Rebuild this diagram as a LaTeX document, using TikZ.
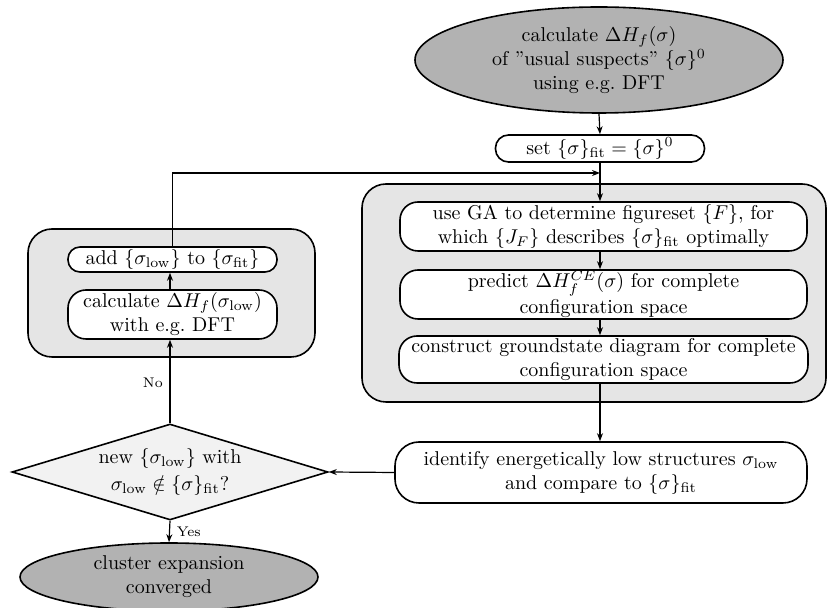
\documentclass[tikz,border=0pt]{standalone}
\usetikzlibrary{shapes.geometric,arrows.meta}
\begin{document}
\begin{tikzpicture}[x=0.5pt,y=-0.5pt,
  box/.style={draw, line width=0.8pt, fill=white, rounded corners=9pt, align=center, inner sep=0pt},
  cont/.style={draw, line width=0.8pt, fill=gray!20, rounded corners=12pt, inner sep=0pt},
  arr/.style={-{Stealth[length=4pt,width=3pt]}, line width=0.6pt},
  ell/.style={draw, line width=0.8pt, fill=gray!60, ellipse, align=center, inner sep=0pt},
  lbl/.style={font=\scriptsize}]
\useasboundingbox (0,0) rectangle (827,608);
% containers
\node[cont, minimum width=232pt, minimum height=109pt] (contR) at (594,293) {};
\node[cont, minimum width=143.5pt, minimum height=64pt] (contL) at (171.5,293) {};
% top ellipse
\node[ell, minimum width=184pt, minimum height=53pt] (top) at (599,60)
  {calculate $\Delta H_f(\sigma)$\\ of ''usual suspects'' $\{\sigma\}^0$\\ using e.g.\ DFT};
\node[box, rounded corners=6.5pt, minimum width=104.5pt, minimum height=13.5pt] (set) at (600,148.5)
  {set $\{\sigma\}_{\mathrm{fit}}=\{\sigma\}^0$};
% right inner boxes
\node[box, minimum width=203.5pt, minimum height=24.5pt] (g1) at (603.5,226.5)
  {use GA to determine figureset $\{F\}$, for\\ which $\{J_F\}$ describes $\{\sigma\}_{\mathrm{fit}}$ optimally};
\node[box, minimum width=203.5pt, minimum height=24.5pt] (g2) at (603.5,294.5)
  {predict $\Delta H_f^{CE}(\sigma)$ for complete\\[1pt] configuration space};
\node[box, minimum width=204.5pt, minimum height=23.5pt] (g3) at (603.5,359.5)
  {construct groundstate diagram for complete\\ configuration space};
% identify
\node[box, rounded corners=12pt, minimum width=206pt, minimum height=30.5pt] (ident) at (601,472.5)
  {identify energetically low structures $\sigma_{\mathrm{low}}$\\ and compare to $\{\sigma\}_{\mathrm{fit}}$};
% diamond
\node[diamond, draw, line width=0.8pt, fill=gray!10, aspect=3.25, minimum width=158pt, minimum height=48pt, inner sep=0pt, align=center] (dia) at (170,472)
  {new $\{\sigma_{\mathrm{low}}\}$ with\\[1.5pt] $\sigma_{\mathrm{low}}\notin\{\sigma\}_{\mathrm{fit}}$?};
% left inner boxes
\node[box, rounded corners=6pt, minimum width=104.5pt, minimum height=12.5pt] (add) at (172.5,259.5)
  {add $\{\sigma_{\mathrm{low}}\}$ to $\{\sigma_{\mathrm{fit}}\}$};
\node[box, minimum width=104.5pt, minimum height=24.5pt] (calc) at (172.5,314.5)
  {calculate $\Delta H_f(\sigma_{\mathrm{low}})$\\ with e.g.\ DFT};
% bottom ellipse
\node[ell, minimum width=149pt, minimum height=34pt] (conv) at (169,577)
  {cluster expansion\\ converged};
\coordinate (loopR) at (600,173);
% connectors
\draw[arr] (top.south) -- (set.north);
\draw[arr] (set.south) -- (set.south |- g1.north);
\draw[arr] (add.north) |- (loopR);
\draw[arr] (g1.south -| set.south) -- (g2.north -| set.south);
\draw[arr] (g2.south -| set.south) -- (g3.north -| set.south);
\draw[arr] (g3.south -| set.south) -- (ident.north -| set.south);
\draw[arr] (ident.west) -- (dia.east);
\draw[arr] (dia.north) -- node[lbl, left, pos=0.48]{No} (dia.north |- calc.south);
\draw[arr] (calc.north -| dia.north) -- (add.south -| dia.north);
\draw[arr] (dia.south) -- node[lbl, right]{Yes} (conv.north);
\end{tikzpicture}
\end{document}
